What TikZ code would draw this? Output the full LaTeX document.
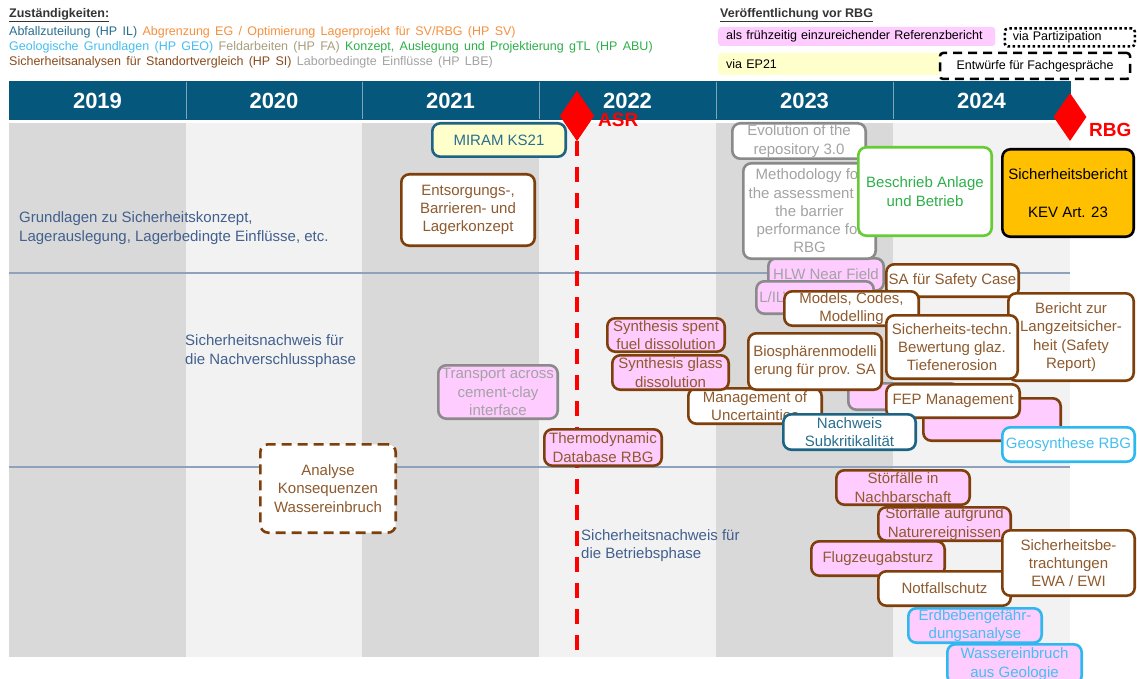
\documentclass[tikz,border=0pt]{standalone}
\usepackage{fontspec}
\setmainfont{Liberation Sans}
\usetikzlibrary{shapes.geometric}

\definecolor{hdrblue}{HTML}{05587C}
\definecolor{hdrsep}{HTML}{7FA3B8}
\definecolor{coldark}{HTML}{D9D9D9}
\definecolor{collight}{HTML}{F2F2F2}
\definecolor{sepline}{HTML}{8EA2BE}
\definecolor{brownline}{HTML}{7F3F0A}
\definecolor{browntext}{HTML}{8E5A2E}
\definecolor{tealline}{HTML}{1C6384}
\definecolor{tealtext}{HTML}{2A6E8E}
\definecolor{skyline}{HTML}{2DB9F0}
\definecolor{skytext}{HTML}{45BFF0}
\definecolor{greenline}{HTML}{66CC33}
\definecolor{greentext}{HTML}{2DB04A}
\definecolor{grayline}{HTML}{8A8A8A}
\definecolor{graytext}{HTML}{A3A3A3}
\definecolor{orangetext}{HTML}{F5913E}
\definecolor{tantext}{HTML}{A89F7E}
\definecolor{legbrown}{HTML}{8A4B1C}
\definecolor{pinkfill}{HTML}{FFCCFF}
\definecolor{yellowfill}{HTML}{FFFFCC}
\definecolor{amberfill}{HTML}{FFC000}
\definecolor{labeltext}{HTML}{42608E}
\definecolor{legendhead}{HTML}{333333}

\newcommand\bxfont{\fontsize{15}{18.3}\selectfont}
\newcommand\legfont{\fontsize{12.5}{15}\selectfont}
\newcommand\legwidefont{\fontsize{12.5}{15}\selectfont\spaceskip=5.3pt plus 1pt}

% box from corner (x1,y1) to corner (x2,y2): style, name, x1, y1, x2, y2, text
\newcommand\bx[7]{\node[#1, minimum width={#5-#3-2.6}, minimum height={#6-#4-2.6}] (#2) at ({(#3+#5)/2},{(#4+#6)/2}) {#7};}

\tikzset{
  bxbase/.style={draw, rounded corners=8pt, line width=2.6pt, inner sep=0pt, align=center, font=\bxfont},
  brn/.style={bxbase, draw=brownline, fill=white, text=browntext},
  brnp/.style={brn, fill=pinkfill},
  brndash/.style={brn, dash pattern=on 10pt off 6pt},
  gry/.style={bxbase, draw=grayline, fill=white, text=graytext},
  gryp/.style={gry, fill=pinkfill},
  tealbx/.style={bxbase, draw=tealline, fill=white, text=tealtext},
  tealyel/.style={tealbx, fill=yellowfill},
  skybx/.style={bxbase, draw=skyline, fill=white, text=skytext},
  skyp/.style={skybx, fill=pinkfill},
  greenbx/.style={bxbase, draw=greenline, fill=white, text=greentext},
  amberbx/.style={bxbase, draw=black, fill=amberfill, text=black},
  lbl/.style={inner sep=0pt, align=left, font=\bxfont, text=labeltext},
  leg/.style={inner sep=0pt, anchor=west, font=\legfont},
  legwide/.style={leg, font=\legwidefont},
  legbox/.style={inner xsep=8pt, inner ysep=0pt, font=\legfont, text=black, rounded corners=3pt},
  yr/.style={text=white, font=\fontsize{22}{24}\selectfont\bfseries, inner sep=0pt},
  mile/.style={diamond, fill=red, inner sep=0pt},
  milelbl/.style={text=red, font=\fontsize{19}{20}\selectfont\bfseries, inner sep=0pt, anchor=west}
}

\begin{document}
\begin{tikzpicture}[x=1pt,y=-1pt]
\useasboundingbox (0,0) rectangle (1137,679);
\fill[white] (0,0) rectangle (1137,679);

% ---- responsibility legend
\node[leg, text=legendhead] (leg0) at (9,15) {\textbf{\underline{Zuständigkeiten:}}};
\node[legwide] (leg1) at (9,32) {\textcolor{tealtext}{Abfallzuteilung (HP IL)} \textcolor{orangetext}{Abgrenzung EG / Optimierung Lagerprojekt für SV/RBG (HP SV)}};
\node[legwide] (leg2) at (9,47) {\textcolor{skytext}{Geologische Grundlagen (HP GEO)} \textcolor{tantext}{Feldarbeiten (HP FA)} \textcolor{greentext}{Konzept, Auslegung und Projektierung gTL (HP ABU)}};
\node[legwide] (leg3) at (9,62) {\textcolor{legbrown}{Sicherheitsanalysen für Standortvergleich (HP SI)} \textcolor{graytext}{Laborbedingte Einflüsse (HP LBE)}};

% ---- publication legend
\node[leg, text=legendhead] (pubhead) at (720,15) {\textbf{\underline{Veröffentlichung vor RBG}}};
\node[legbox, fill=pinkfill, anchor=west, text width=261pt, minimum height=19pt, align=left] (pubref) at (718,36.5) {als frühzeitig einzureichender Referenzbericht};
\node[legbox, fill=white, draw=black, line width=2.5pt, dash pattern=on 2.5pt off 2.5pt, anchor=west, text width=114pt, minimum height=18pt, align=left] (pubpart) at (1003.5,37.5) {via Partizipation};
\node[legbox, fill=yellowfill, anchor=west, text width=211pt, minimum height=22pt, align=left] (pubep) at (718,64) {via EP21};
\node[legbox, fill=white, draw=black, line width=2.5pt, dash pattern=on 9pt off 6pt, minimum width=190pt, minimum height=26pt] (pubdraft) at (1035,66) {Entwürfe für Fachgespräche};

% ---- year columns
\fill[coldark]  (9,123)   rectangle (186,657);
\fill[collight] (186,123) rectangle (362,657);
\fill[coldark]  (362,123) rectangle (539,657);
\fill[collight] (539,123) rectangle (716,657);
\fill[coldark]  (716,123) rectangle (893,657);
\fill[collight] (893,123) rectangle (1070,657);

% ---- header bar
\fill[hdrblue] (9,81) rectangle (1071,120);
\foreach \x in {186,362,539,716,893} \draw[hdrsep, line width=0.8pt] (\x,82) -- (\x,119);
\node[yr] (y2019) at (97.5,100.5) {2019};
\node[yr] (y2020) at (274,100.5) {2020};
\node[yr] (y2021) at (450.5,100.5) {2021};
\node[yr] (y2022) at (627.5,100.5) {2022};
\node[yr] (y2023) at (804.5,100.5) {2023};
\node[yr] (y2024) at (981.5,100.5) {2024};

% ---- phase separators
\draw[sepline, line width=2pt] (9,273) -- (1070,273);
\draw[sepline, line width=2pt] (9,467) -- (1070,467);

% ---- phase labels
\node[lbl, anchor=west] (grund) at (19,228) {Grundlagen zu Sicherheitskonzept,\\Lagerauslegung, Lagerbedingte Einflüsse, etc.};
\node[lbl, anchor=west] (nachv) at (185,351) {Sicherheitsnachweis für\\die Nachverschlussphase};
\node[lbl, anchor=west] (betr) at (581,545.5) {Sicherheitsnachweis für\\die Betriebsphase};

% ---- ASR milestone line
\node[mile, minimum width=34pt, minimum height=50pt] (asr) at (577,116) {};
\coordinate (asrend) at (577,657);
\draw[red, line width=4pt, dash pattern=on 15pt off 11pt] (asr.south) -- (asrend);

% ---- work packages
\bx{tealyel}{miram}{431}{122}{567}{158}{MIRAM KS21}
\bx{brn}{entsorg}{400}{173}{536}{247}{Entsorgungs-,\\Barrieren- und\\Lagerkonzept}
\bx{gry}{evol}{731}{122}{867}{160}{Evolution of the\\repository 3.0}
\bx{gryp}{hlw}{767}{257}{885}{292}{HLW Near Field}
\bx{gry}{method}{742}{162}{877}{260}{Methodology for\\the assessment of\\the barrier\\performance for\\RBG}
\bx{greenbx}{beschrieb}{857}{146}{993}{237}{Beschrieb Anlage\\und Betrieb}
\bx{amberbx}{sibericht}{1001}{148}{1135}{238}{Sicherheitsbericht\\[20pt]KEV Art. 23}
\bx{gryp}{lilw}{755}{280}{875}{315}{L/ILW Near Field}
\bx{brn}{sacase}{885}{263}{1020}{298}{SA für Safety Case}
\bx{brn}{models}{783}{290}{920}{327}{Models, Codes,\\Modelling}
\bx{brn}{langzeit}{1007}{292}{1135}{382}{Bericht zur\\Langzeitsicher-\\heit (Safety\\Report)}
\bx{brn}{glaz}{885}{314}{1019}{380}{Sicherheits-techn.\\Bewertung glaz.\\Tiefenerosion}
\bx{brn}{uncert}{687}{387}{823}{425}{Management of\\Uncertainties}
\bx{brnp}{spent}{606}{317}{726}{353}{Synthesis spent\\fuel dissolution}
\bx{brnp}{glass}{611}{354}{730}{391}{Synthesis glass\\dissolution}
\bx{gryp}{transport}{437}{364}{559}{420}{Transport across\\cement-clay\\interface}
\bx{brnp}{thermo}{543}{428}{663}{467}{Thermodynamic\\Database RBG}
\bx{gryp}{hidgray}{847}{382}{960}{411}{}
\bx{brn}{bio}{747}{332}{883}{391}{Biosphärenmodelli\\erung für prov. SA}
\bx{brnp}{hidbrown}{922}{397}{1062}{442}{}
\bx{brn}{fep}{885}{383}{1021}{419}{FEP Management}
\bx{tealbx}{subkrit}{782}{413}{917}{451}{Nachweis\\Subkritikalität}
\bx{skybx}{geosyn}{1001}{426}{1136}{463}{Geosynthese RBG}
\bx{brndash}{wasserkons}{259}{443}{397}{534}{Analyse\\Konsequenzen\\Wassereinbruch}
\bx{brnp}{stnach}{835}{469}{971}{506}{Störfälle in\\Nachbarschaft}
\bx{brnp}{flug}{810}{540}{946}{577}{Flugzeugabsturz}
\bx{brnp}{stnatur}{877}{506}{1012}{542}{Störfälle aufgrund\\Naturereignissen}
\bx{brn}{notfall}{877}{570}{1012}{607}{Notfallschutz}
\bx{brn}{ewa}{1001}{529}{1136}{597}{Sicherheitsbe-\\trachtungen\\EWA / EWI}
\bx{skyp}{erdbeben}{907}{607}{1043}{644}{Erdbebengefähr-\\dungsanalyse}
\bx{skyp}{wassergeo}{946}{643}{1083}{685}{Wassereinbruch\\aus Geologie}

% ---- milestone markers on top
\node[mile, minimum width=34pt, minimum height=50pt] (asrtop) at (577,116) {};
\node[milelbl] (asrlbl) at (598,119.5) {ASR};
\node[mile, minimum width=33pt, minimum height=48pt] (rbg) at (1070,117) {};
\node[milelbl] (rbglbl) at (1089,130) {RBG};
\end{tikzpicture}
\end{document}
